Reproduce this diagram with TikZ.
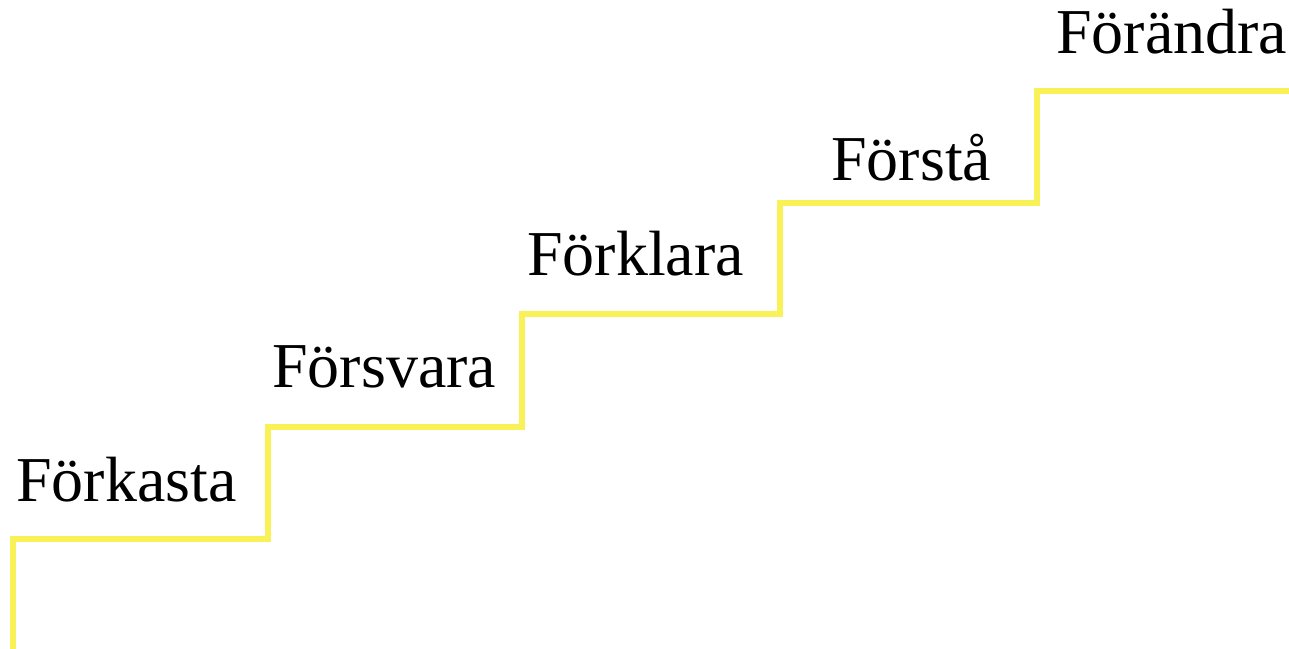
\documentclass[tikz,border=0pt]{standalone}
\usepackage{fontspec}
\setmainfont{Liberation Serif}
\definecolor{trappgul}{RGB}{249,241,88}
\tikzset{steg/.style={font=\fontsize{36.4}{40}\selectfont, anchor=base west, inner sep=0pt}}

\begin{document}
\begin{tikzpicture}[x=0.02cm,y=-0.02cm]
		\useasboundingbox (0,0) rectangle (1289,649);
		\draw[color=trappgul, line width=3.1pt, line join=miter] (13,649) -- (13,539)
			-- (268,539) -- (268,427) -- (522,427) -- (522,314)
			-- (780,314) -- (780,203) -- (1037,203) -- (1037,91) -- (1289,91);
		\node[steg] (forkasta) at (16,501) {Förkasta};
		\node[steg] (forsvara) at (272,387) {Försvara};
		\node[steg] (forklara) at (527,275) {Förklara};
		\node[steg] (forsta) at (831,180) {Förstå};
		\node[steg] (forandra) at (1056,53) {Förändra};
	\end{tikzpicture}
\end{document}
